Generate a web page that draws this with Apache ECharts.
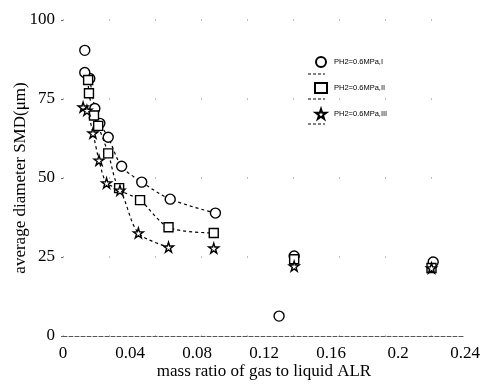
<!DOCTYPE html>
<html><head><meta charset="utf-8">
<script src="https://cdn.jsdelivr.net/npm/echarts@6/dist/echarts.min.js"></script>
<style>html,body{margin:0;padding:0;background:#fff}#c{width:489px;height:385px}</style>
</head><body><div id="c"></div>
<script>
// ---- data ----
var xTicks = ['0', '0.04', '0.08', '0.12', '0.16', '0.2', '0.24'];
var yTicks = ['0', '25', '50', '75', '100'];
var seriesNames = ['PH2=0.6MPa,I', 'PH2=0.6MPa,II', 'PH2=0.6MPa,III'];

var circleCurveX = [0.016, 0.019, 0.022, 0.027, 0.035, 0.047, 0.064, 0.091];
var circleCurveY = [81.5, 72.0, 67.3, 62.9, 53.7, 48.7, 43.3, 38.9];
var circleExtraX = [0.013, 0.013, 0.129, 0.138, 0.221];
var circleExtraY = [90.4, 83.4, 6.3, 25.3, 23.4];

var squareCurveX = [0.015, 0.0155, 0.0185, 0.021, 0.027, 0.0335, 0.046, 0.063, 0.090];
var squareCurveY = [81.0, 76.8, 69.8, 66.5, 57.8, 46.8, 43.0, 34.4, 32.6];
var squareExtraX = [0.138, 0.220];
var squareExtraY = [24.3, 21.5];

var starCurveX = [0.012, 0.0143, 0.0179, 0.0215, 0.026, 0.034, 0.045, 0.063];
var starCurveY = [72.4, 71.4, 64.2, 55.6, 48.4, 46.1, 32.6, 28.1];
var starExtraX = [0.090, 0.138, 0.220];
var starExtraY = [27.8, 22.1, 21.5];

function pairs(xs, ys) { return xs.map(function (x, i) { return [x, ys[i]]; }); }

var starPath = 'path://M50,0 L61,35 L98,35 L68,57 L79,91 L50,70 L21,91 L32,57 L2,35 L39,35 Z';
var symbols = ['circle', 'rect', starPath];
var sizes = [10, 9, 10];
var curves = [pairs(circleCurveX, circleCurveY), pairs(squareCurveX, squareCurveY), pairs(starCurveX, starCurveY)];
var extras = [pairs(circleExtraX, circleExtraY), pairs(squareExtraX, squareExtraY), pairs(starExtraX, starExtraY)];

var series = [];
for (var i = 0; i < 3; i++) {
  series.push({
    name: seriesNames[i] + '_line', type: 'line', data: curves[i], smooth: 0.3,
    showSymbol: false, silent: true, z: 2,
    lineStyle: { color: '#000', width: 1.2, type: [3, 3] }
  });
  series.push({
    name: seriesNames[i], type: 'scatter', data: curves[i].concat(extras[i]),
    symbol: symbols[i], symbolSize: sizes[i], z: 3,
    itemStyle: { color: '#fff', borderColor: '#000', borderWidth: 1.4, opacity: 1 }
  });
}

var chart = echarts.init(document.getElementById('c'), null, { renderer: 'canvas' });
chart.setOption({
  animation: false,
  backgroundColor: '#fff',
  grid: { left: 63, right: 24, top: 20, bottom: 49, outerBoundsMode: 'none', containLabel: false },
  legend: {
    data: seriesNames, orient: 'vertical', left: 309, top: 51,
    itemWidth: 12, itemHeight: 10, itemGap: 14,
    textStyle: { fontSize: 7.5, color: '#000', fontFamily: 'Liberation Sans', padding: [0, 0, 0, 2] }
  },
  xAxis: {
    type: 'value', min: 0, max: 0.24, interval: 0.04,
    name: 'mass ratio of gas to liquid ALR', nameLocation: 'middle', nameGap: 27,
    nameMoveOverlap: false,
    nameTextStyle: { fontFamily: 'Liberation Serif', fontSize: 17, color: '#000' },
    axisLine: { show: true, lineStyle: { color: '#555', type: [4, 2], width: 1 } },
    axisTick: { show: false },
    splitLine: { show: false },
    axisLabel: {
      margin: 9, fontFamily: 'Liberation Serif', fontSize: 17, color: '#000',
      formatter: function (v) { return xTicks[Math.round(v / 0.04)]; }
    }
  },
  yAxis: {
    type: 'value', min: 0, max: 100, interval: 25,
    name: 'average diameter SMD(\u03bcm)', nameLocation: 'middle', nameGap: 34,
    nameMoveOverlap: false,
    nameTextStyle: { fontFamily: 'Liberation Serif', fontSize: 17, color: '#000' },
    axisLine: { show: false },
    axisTick: { show: true, length: 2, lineStyle: { color: '#666' } },
    splitLine: { show: true, lineStyle: { color: '#aaa', type: [1, 45], width: 1.5 } },
    axisLabel: {
      margin: 8, fontFamily: 'Liberation Serif', fontSize: 17, color: '#000',
      formatter: function (v) { return yTicks[Math.round(v / 25)]; }
    }
  },
  graphic: [
    { type: 'line', shape: { x1: 308, y1: 74, x2: 325, y2: 74 }, style: { stroke: '#000', lineDash: [3, 2], lineWidth: 1 } },
    { type: 'line', shape: { x1: 308, y1: 99, x2: 325, y2: 99 }, style: { stroke: '#000', lineDash: [3, 2], lineWidth: 1 } },
    { type: 'line', shape: { x1: 308, y1: 124, x2: 325, y2: 124 }, style: { stroke: '#000', lineDash: [3, 2], lineWidth: 1 } }
  ],
  series: series
});
</script>
</body></html>
